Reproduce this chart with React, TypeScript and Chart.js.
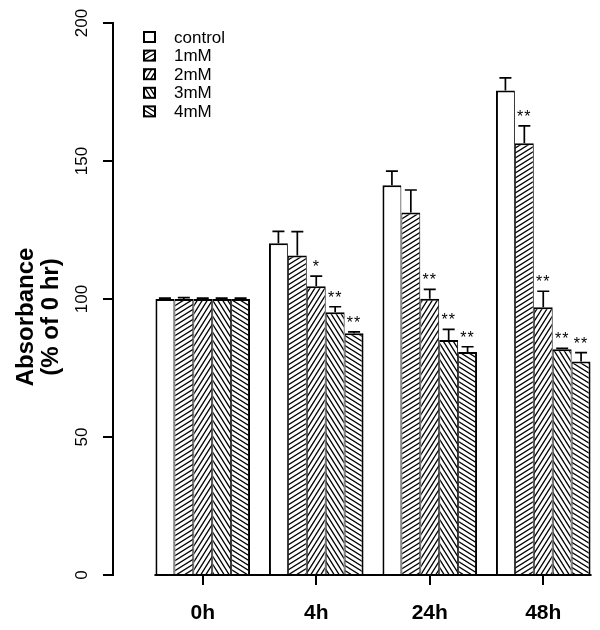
import React, { useEffect, useRef } from "react";
import { Chart, registerables } from "chart.js";

Chart.register(...registerables);

const categories = ["0h", "4h", "24h", "48h"];
const seriesNames = ["control", "1mM", "2mM", "3mM", "4mM"];

const controlVals = [100, 120.2, 141.2, 175.5];
const mM1Vals = [100, 115.8, 131.3, 156.4];
const mM2Vals = [100, 104.6, 100.1, 97.0];
const mM3Vals = [100, 95.2, 85.1, 81.8];
const mM4Vals = [100, 87.6, 80.8, 77.4];

const controlErr = [0.3, 4.3, 5.1, 4.6];
const mM1Err = [0.5, 8.6, 8.2, 6.3];
const mM2Err = [0.3, 3.7, 3.4, 5.8];
const mM3Err = [0.3, 2.0, 3.9, 0.3];
const mM4Err = [0.3, 0.5, 1.9, 3.2];

const controlStars = ["", "", "", ""];
const mM1Stars = ["", "", "", "**"];
const mM2Stars = ["", "*", "**", "**"];
const mM3Stars = ["", "**", "**", "**"];
const mM4Stars = ["", "**", "**", "**"];

const yTicks = [0, 50, 100, 150, 200];
const yTitle = ["Absorbance", "(% of 0 hr)"];

const FONT = "'Liberation Sans', Arial, Helvetica, sans-serif";

function makeHatch(w: number, h: number, dir: string): CanvasPattern | string {
  const c = document.createElement("canvas");
  c.width = w;
  c.height = h;
  const g = c.getContext("2d");
  if (!g) return "#fff";
  g.fillStyle = "#fff";
  g.fillRect(0, 0, w, h);
  g.strokeStyle = "#000";
  g.lineWidth = 1.3;
  g.beginPath();
  for (let dx = -1; dx <= 1; dx++) {
    for (let dy = -1; dy <= 1; dy++) {
      if (dir === "/") {
        g.moveTo(dx * w, h + dy * h);
        g.lineTo(w + dx * w, dy * h);
      } else {
        g.moveTo(dx * w, dy * h);
        g.lineTo(w + dx * w, h + dy * h);
      }
    }
  }
  g.stroke();
  const p = g.createPattern(c, "repeat");
  return p || "#fff";
}

export default function App() {
  const ref = useRef<HTMLCanvasElement>(null);

  useEffect(() => {
    if (!ref.current) return;
    const fills = [
      "#ffffff",
      makeHatch(8, 5, "/"),
      makeHatch(5, 8, "/"),
      makeHatch(5, 8, "\\"),
      makeHatch(8, 5, "\\"),
    ];
    const vals = [controlVals, mM1Vals, mM2Vals, mM3Vals, mM4Vals];
    const errs = [controlErr, mM1Err, mM2Err, mM3Err, mM4Err];
    const stars = [controlStars, mM1Stars, mM2Stars, mM3Stars, mM4Stars];

    const datasets = seriesNames.map((name, i) => ({
      label: name,
      data: vals[i],
      backgroundColor: fills[i],
      borderColor: "#000",
      borderWidth: {
        top: 2,
        left: i === 0 ? 2 : 1,
        right: i === seriesNames.length - 1 ? 2 : 1,
        bottom: 0,
      },
      borderSkipped: false as const,
      categoryPercentage: 5 / 6,
      barPercentage: 1,
    }));

    const customPlugin = {
      id: "rStyle",
      afterDatasetsDraw(chart: any) {
        const ctx = chart.ctx;
        const ys = chart.scales.y;
        ctx.save();
        ctx.strokeStyle = "#000";
        ctx.fillStyle = "#000";
        ctx.lineWidth = 1.7;
        for (let i = 0; i < vals.length; i++) {
          const meta = chart.getDatasetMeta(i);
          meta.data.forEach((el: any, j: number) => {
            const v = vals[i][j];
            const e = errs[i][j];
            const yTop = ys.getPixelForValue(v + e);
            ctx.beginPath();
            ctx.moveTo(el.x, el.y);
            ctx.lineTo(el.x, yTop);
            ctx.moveTo(el.x - 6, yTop);
            ctx.lineTo(el.x + 6, yTop);
            ctx.stroke();
            const s = stars[i][j];
            if (s) {
              ctx.font = `16px ${FONT}`;
              ctx.textAlign = "center";
              ctx.textBaseline = "alphabetic";
              (ctx as any).letterSpacing = "1px";
              ctx.fillText(s, el.x, yTop - 4);
              (ctx as any).letterSpacing = "0px";
            }
          });
        }
        const m0 = chart.getDatasetMeta(0).data[0];
        const mLast = chart.getDatasetMeta(vals.length - 1).data;
        const lastEl = mLast[mLast.length - 1];
        const base = ys.getPixelForValue(0);
        ctx.lineWidth = 2;
        ctx.beginPath();
        ctx.moveTo(m0.x - m0.width / 2 - 1, base);
        ctx.lineTo(lastEl.x + lastEl.width / 2 + 1, base);
        ctx.stroke();
        ctx.restore();
      },
      afterDraw(chart: any) {
        const ctx = chart.ctx;
        const ys = chart.scales.y;
        const area = chart.chartArea;
        const axisX = area.left - 33;
        const y0 = ys.getPixelForValue(yTicks[0]);
        const y1 = ys.getPixelForValue(yTicks[yTicks.length - 1]);
        ctx.save();
        ctx.strokeStyle = "#000";
        ctx.fillStyle = "#000";
        ctx.lineWidth = 2;
        ctx.beginPath();
        ctx.moveTo(axisX, y0 + 1);
        ctx.lineTo(axisX, y1 - 1);
        yTicks.forEach((t) => {
          const py = ys.getPixelForValue(t);
          ctx.moveTo(axisX - 10, py);
          ctx.lineTo(axisX, py);
        });
        ctx.stroke();
        ctx.font = `17px ${FONT}`;
        ctx.textAlign = "center";
        ctx.textBaseline = "middle";
        yTicks.forEach((t) => {
          const py = ys.getPixelForValue(t);
          ctx.save();
          ctx.translate(axisX - 31, py);
          ctx.rotate(-Math.PI / 2);
          ctx.fillText(String(t), 0, 0);
          ctx.restore();
        });
        const cy = (y0 + y1) / 2 + 18;
        ctx.font = `bold 24px ${FONT}`;
        ctx.textBaseline = "alphabetic";
        yTitle.forEach((line, k) => {
          ctx.save();
          ctx.translate(axisX - 80 + k * 25, cy);
          ctx.rotate(-Math.PI / 2);
          ctx.fillText(line, 0, 0);
          ctx.restore();
        });
        ctx.font = `17px ${FONT}`;
        ctx.textAlign = "left";
        ctx.textBaseline = "middle";
        seriesNames.forEach((name, i) => {
          const ry = 37 + i * 18.6;
          ctx.fillStyle = fills[i] as any;
          ctx.fillRect(144, ry - 5, 11, 10);
          ctx.lineWidth = 2;
          ctx.strokeStyle = "#000";
          ctx.strokeRect(144, ry - 5, 11, 10);
          ctx.fillStyle = "#000";
          ctx.fillText(name, 174, ry + 1);
        });
        ctx.restore();
      },
    };

    const chart = new Chart(ref.current, {
      type: "bar",
      data: { labels: categories, datasets: datasets as any },
      options: {
        responsive: false,
        animation: false,
        devicePixelRatio: 1,
        layout: { padding: { left: 146, right: 0, top: 23, bottom: 0 } },
        plugins: {
          legend: { display: false },
          tooltip: { enabled: false },
        },
        scales: {
          x: {
            type: "category",
            offset: true,
            grid: {
              display: true,
              offset: false,
              drawOnChartArea: false,
              drawTicks: true,
              tickLength: 10,
              color: "#000",
              lineWidth: 2,
            },
            border: { display: false },
            ticks: {
              color: "#000",
              font: { family: FONT, size: 21, weight: "bold" },
              padding: 16,
              maxRotation: 0,
            },
            afterFit: (s: any) => {
              s.height = 55;
            },
          },
          y: {
            display: false,
            min: 0,
            max: 200,
          },
        },
      },
      plugins: [customPlugin],
    });
    return () => chart.destroy();
  }, []);

  return (
    <div style={{ position: "absolute", left: 0, top: 0, width: 600, height: 630, background: "#fff" }}>
      <canvas ref={ref} width={600} height={630} />
    </div>
  );
}
